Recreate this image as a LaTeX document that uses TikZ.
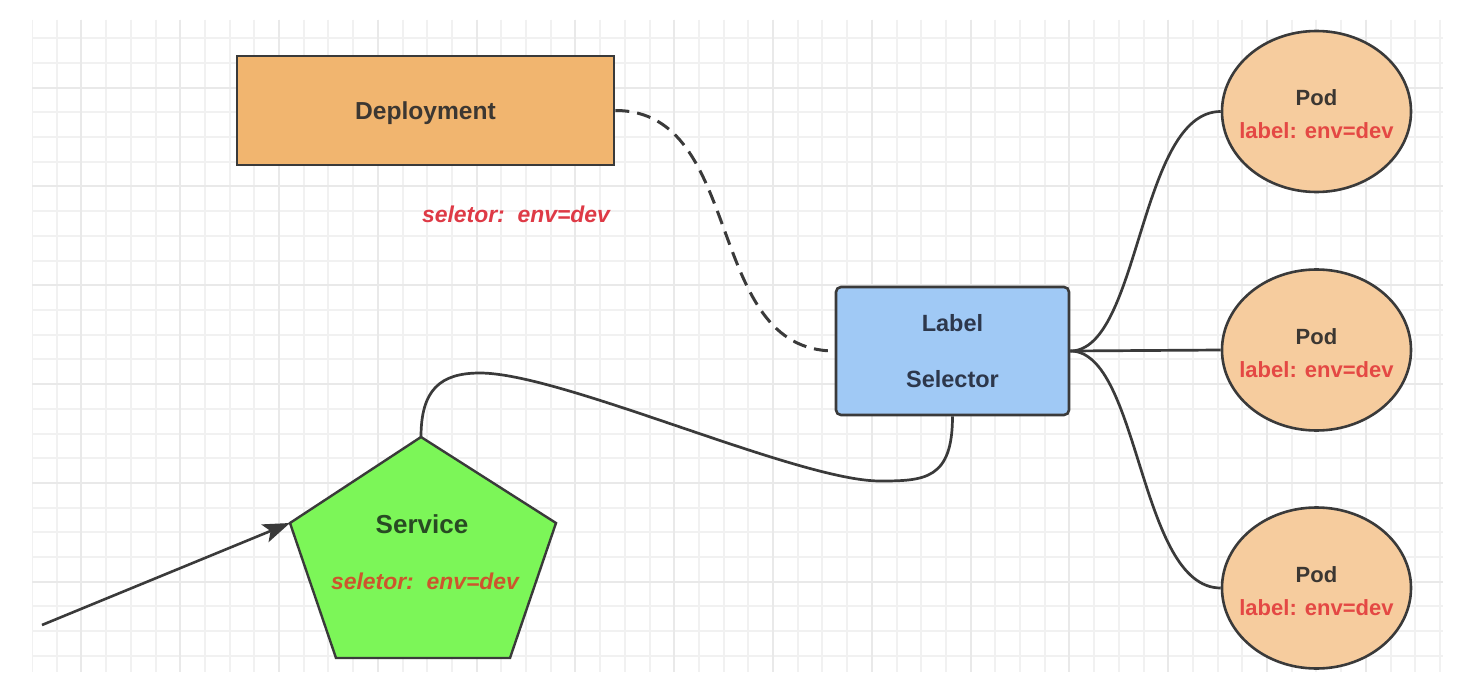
\documentclass[tikz,border=0pt]{standalone}
\usepackage{fontspec}
\setmainfont{Liberation Sans}
\usepackage{tikz}
\usetikzlibrary{positioning,shapes.geometric,arrows.meta,calc}
\definecolor{deployorange}{RGB}{241,181,111}
\definecolor{selblue}{RGB}{160,201,245}
\definecolor{podpeach}{RGB}{246,204,158}
\definecolor{svcgreen}{RGB}{124,246,88}
\definecolor{edgegray}{RGB}{58,58,58}
\definecolor{textdark}{RGB}{60,55,50}
\definecolor{seldark}{RGB}{45,55,75}
\definecolor{svcdark}{RGB}{40,75,35}
\definecolor{selred}{RGB}{222,58,70}
\definecolor{podred}{RGB}{228,72,68}
\definecolor{svcred}{RGB}{205,85,45}
\definecolor{gridminor}{RGB}{241,241,241}
\definecolor{gridmajor}{RGB}{233,233,233}

\begin{document}
\begin{tikzpicture}[x=1pt, y=-1pt,
    minorline/.style={draw=gridminor, line width=2pt},
    majorline/.style={draw=gridmajor, line width=2pt},
    deploybox/.style={rectangle, draw=edgegray, line width=2.6pt, fill=deployorange, minimum width=377pt, minimum height=109pt, text height=18.8pt, text depth=0pt, text=textdark, font=\fontsize{24.6}{29}\selectfont\bfseries},
    selbox/.style={rectangle, rounded corners=5pt, draw=edgegray, line width=2.6pt, fill=selblue, minimum width=233pt, minimum height=128pt, align=center, text=seldark, font=\fontsize{23.5}{28}\selectfont\bfseries},
    podnode/.style={ellipse, draw=edgegray, line width=2.6pt, fill=podpeach, minimum width=189pt, minimum height=161pt, inner sep=0pt, text height=55pt, text depth=0pt, align=center, text=textdark, font=\fontsize{22}{26.4}\selectfont\bfseries},
    svcshape/.style={draw=edgegray, line width=2.4pt, fill=svcgreen, line join=miter},
    svctext/.style={text=svcdark, font=\fontsize{26}{31}\selectfont\bfseries},
    seltext/.style={font=\fontsize{22.9}{27}\selectfont\bfseries\itshape},
    link/.style={draw=edgegray, line width=2.7pt},
    dashlink/.style={link, line width=3pt, dash pattern=on 14pt off 8pt},
    inarrow/.style={-{Stealth[length=27pt, width=19pt, inset=6pt]}, draw=edgegray, fill=edgegray, line width=2.6pt}
]
\useasboundingbox (0,0) rectangle (1460,698);
\fill[white] (0,0) rectangle (1460,698);
\begin{scope}
\clip (32,20) rectangle (1443,672);
\foreach \i in {0,...,57} \draw[minorline] ({32+24.7*\i},20) -- ({32+24.7*\i},672);
\foreach \j in {1,...,26} \draw[minorline] (32,{13.6+24.7*\j}) -- (1443,{13.6+24.7*\j});
\foreach \i in {2,6,...,58} \draw[majorline] ({32+24.7*\i},20) -- ({32+24.7*\i},672);
\foreach \j in {3,7,...,23} \draw[majorline] (32,{13.6+24.7*\j}) -- (1443,{13.6+24.7*\j});
\end{scope}

\coordinate (svctop)   at (421,437);
\coordinate (svcright) at (556,523);
\coordinate (svcbr)    at (510,658);
\coordinate (svcbl)    at (336,658);
\coordinate (svcleft)  at (290,523);
\coordinate (client)   at (42,625);
\draw[svcshape] (svctop) -- (svcright) -- (svcbr) -- (svcbl) -- (svcleft) -- cycle;

\node[deploybox] (deploy) at (425.5,110.5) {Deployment};
\node[seltext, text=selred] (deploysel) at (516,214) {seletor:\ \ env=dev};
\node[selbox] (selector) at (952.5,351) {Label\\[28pt]Selector};
\node[podnode] (pod1) at (1316.5,111.5) {\makebox[0pt]{Pod}\\[6.6pt]\makebox[0pt]{\color{podred}label: env=dev}};
\node[podnode] (pod2) at (1316.5,350) {\makebox[0pt]{Pod}\\[6.6pt]\makebox[0pt]{\color{podred}label: env=dev}};
\node[podnode] (pod3) at (1316.5,588) {\makebox[0pt]{Pod}\\[6.6pt]\makebox[0pt]{\color{podred}label: env=dev}};
\node[svctext] (service) at (422,524) {Service};
\node[seltext, text=svcred] (svcsel) at (425,581) {seletor:\ \ env=dev};

\draw[dashlink] (deploy.east) .. controls +(131,0) and +(-132,0) .. (selector.west);
\draw[link] (selector.east) .. controls +(70,0) and +(-82,0) .. (pod1.west);
\draw[link] (selector.east) -- (pod2.west);
\draw[link] (selector.east) .. controls +(70,0) and +(-82,0) .. (pod3.west);
\draw[link] (selector.south) .. controls +(0,63) and (925,481) .. (880,481)
    .. controls (798,481) and (562,373) .. (480,373)
    .. controls (440,373) and (421,390) .. (svctop);
\draw[inarrow] (client) -- (svcleft);
\end{tikzpicture}
\end{document}
